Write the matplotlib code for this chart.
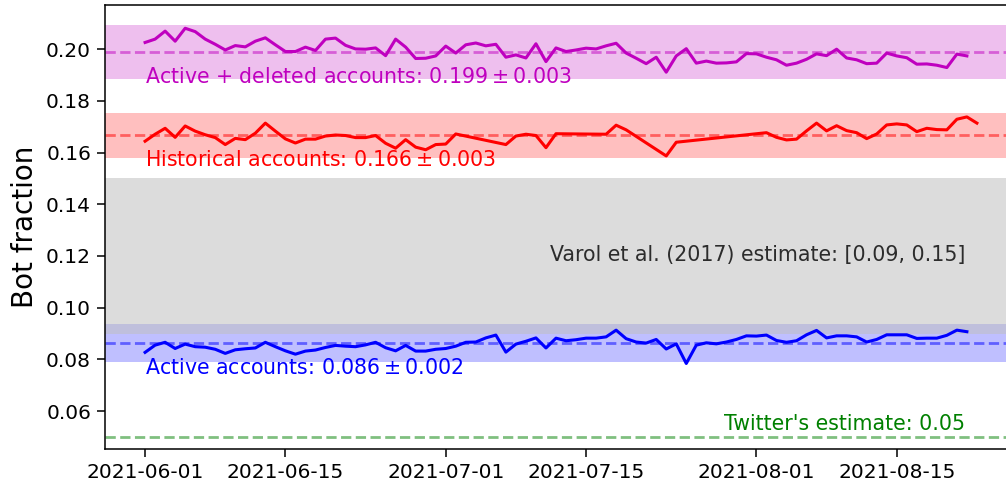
import numpy as np
import pandas as pd
import matplotlib
matplotlib.use("Agg")
import matplotlib.pyplot as plt
import matplotlib.dates as mdates

start = pd.Timestamp("2021-06-01")

# active + deleted accounts, daily from 2021-06-01
deleted_vals = [0.2026, 0.2039, 0.2070, 0.2031, 0.2081, 0.2068, 0.2039, 0.2019, 0.1997, 0.2014,
                0.2009, 0.2031, 0.2044, 0.2017, 0.1991, 0.1991, 0.2008, 0.1995, 0.2039, 0.2043,
                0.2015, 0.2001, 0.2000, 0.2005, 0.1975, 0.2039, 0.2008, 0.1964, 0.1965, 0.1974,
                0.2012, 0.1985, 0.2017, 0.2024, 0.2013, 0.2019, 0.1969, 0.1978, 0.1966, 0.2021,
                0.1952, 0.2005, 0.1991, 0.1997, 0.2004, 0.2001, 0.2013, 0.2023, 0.1985, 0.1965,
                0.1944, 0.1969, 0.1911, 0.1974, 0.2002, 0.1946, 0.1954, 0.1946, 0.1947, 0.1951,
                0.1983, 0.1982, 0.1969, 0.1959, 0.1938, 0.1946, 0.1961, 0.1982, 0.1975, 0.2000,
                0.1966, 0.1959, 0.1944, 0.1946, 0.1985, 0.1974, 0.1967, 0.1942, 0.1943, 0.1938,
                0.1929, 0.1981, 0.1974]

# active accounts, daily from 2021-06-01
active_vals = [0.0827, 0.0855, 0.0866, 0.0842, 0.0859, 0.0849, 0.0847, 0.0839, 0.0823, 0.0837,
               0.0841, 0.0844, 0.0866, 0.0849, 0.0833, 0.0820, 0.0832, 0.0836, 0.0846, 0.0854,
               0.0851, 0.0849, 0.0856, 0.0866, 0.0845, 0.0833, 0.0854, 0.0832, 0.0832, 0.0839,
               0.0842, 0.0851, 0.0866, 0.0867, 0.0883, 0.0894, 0.0828, 0.0859, 0.0870, 0.0883,
               0.0844, 0.0882, 0.0872, 0.0876, 0.0882, 0.0882, 0.0887, 0.0913, 0.0880, 0.0867,
               0.0863, 0.0877, 0.0840, 0.0860, 0.0784, 0.0855, 0.0864, 0.0860, 0.0867, 0.0877,
               0.0891, 0.0890, 0.0894, 0.0873, 0.0866, 0.0872, 0.0895, 0.0912, 0.0883, 0.0891,
               0.0891, 0.0887, 0.0867, 0.0877, 0.0895, 0.0895, 0.0895, 0.0881, 0.0882, 0.0882,
               0.0893, 0.0913, 0.0907]

# historical accounts have some missing days
hist_days = list(range(0, 32)) + [36, 37, 38, 39, 40, 41, 46, 47, 48, 52, 53] + list(range(62, 84))
hist_vals = [0.1644, 0.1671, 0.1694, 0.1659, 0.1703, 0.1683, 0.1669, 0.1658, 0.1631, 0.1655,
             0.1650, 0.1675, 0.1714, 0.1683, 0.1653, 0.1637, 0.1652, 0.1652, 0.1664, 0.1668,
             0.1666, 0.1658, 0.1658, 0.1666, 0.1636, 0.1617, 0.1650, 0.1621, 0.1611, 0.1631,
             0.1633, 0.1672,
             0.1631, 0.1664, 0.1671, 0.1666, 0.1619, 0.1673, 0.1671, 0.1706, 0.1688, 0.1587, 0.1640,
             0.1677, 0.1659, 0.1649, 0.1652, 0.1684, 0.1714, 0.1684, 0.1704, 0.1685, 0.1677,
             0.1654, 0.1672, 0.1707, 0.1711, 0.1707, 0.1681, 0.1694, 0.1689, 0.1688, 0.1729,
             0.1738, 0.1714]

deleted_band = (0.1885, 0.2094)
hist_band = (0.158, 0.1755)
active_band = (0.0791, 0.0937)
varol_band = (0.09, 0.15)
means = {"deleted": 0.199, "hist": 0.1668, "active": 0.0864}
twitter = 0.05

days_all = start + pd.to_timedelta(np.arange(len(deleted_vals)), unit="D")
hist_dates = start + pd.to_timedelta(hist_days, unit="D")

fig = plt.figure(figsize=(10.06, 4.93), dpi=100)
ax = fig.add_axes([105 / 1006, 43.7 / 493, 913 / 1006, 444.3 / 493])

ax.axhspan(*deleted_band, color="m", alpha=0.25, lw=0)
ax.axhspan(*hist_band, color="r", alpha=0.25, lw=0)
ax.axhspan(*active_band, color="b", alpha=0.25, lw=0)
ax.axhspan(*varol_band, color="silver", alpha=0.55, lw=0)

ax.axhline(means["deleted"], color="m", ls="--", lw=2, alpha=0.5)
ax.axhline(means["hist"], color="r", ls="--", lw=2, alpha=0.5)
ax.axhline(means["active"], color="b", ls="--", lw=2, alpha=0.5)
ax.axhline(twitter, color="g", ls="--", lw=2, alpha=0.5)

ax.plot(days_all, deleted_vals, color="m", lw=2.2)
ax.plot(hist_dates, hist_vals, color="r", lw=2.2)
ax.plot(days_all, active_vals, color="b", lw=2.2)

fs = 14.8
ax.text(start, 0.1893, r"Active + deleted accounts: $0.199 \pm 0.003$", color="m", fontsize=fs, va="center")
ax.text(start, 0.1571, r"Historical accounts: $0.166 \pm 0.003$", color="r", fontsize=fs, va="center")
ax.text(start, 0.0766, r"Active accounts: $0.086 \pm 0.002$", color="b", fontsize=fs, va="center")
end_txt = start + pd.Timedelta(days=81.8)
ax.text(end_txt, 0.1204, "Varol et al. (2017) estimate: [0.09, 0.15]", color="k", alpha=0.8,
        fontsize=fs, va="center", ha="right")
ax.text(end_txt, 0.0512, "Twitter's estimate: 0.05", color="g", fontsize=fs, va="bottom", ha="right")

ax.set_xlim(start - pd.Timedelta(days=4), start + pd.Timedelta(days=87.1))
ax.set_ylim(0.0452, 0.2171)
ax.set_yticks([0.06, 0.08, 0.10, 0.12, 0.14, 0.16, 0.18, 0.20])
ax.yaxis.set_major_formatter(matplotlib.ticker.FormatStrFormatter("%.2f"))
ticks = pd.to_datetime(["2021-06-01", "2021-06-15", "2021-07-01", "2021-07-15", "2021-08-01", "2021-08-15"])
ax.set_xticks(ticks)
ax.xaxis.set_major_formatter(mdates.DateFormatter("%Y-%m-%d"))
ax.tick_params(labelsize=14.5, length=6, width=1.1, pad=4)
for sp in ax.spines.values():
    sp.set_linewidth(1.1)
ax.set_ylabel("Bot fraction", fontsize=20, labelpad=5)

fig.savefig("out.png", dpi=100)
